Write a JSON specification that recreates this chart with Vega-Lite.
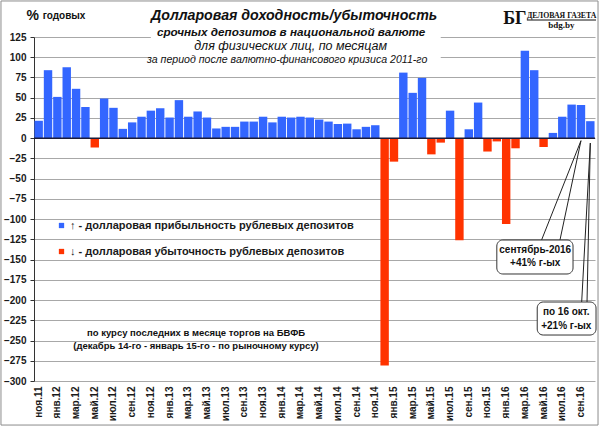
{
  "$schema": "https://vega.github.io/schema/vega-lite/v6.json",
  "autosize": {"type": "none"},
  "width": 561,
  "height": 344,
  "padding": {"left": 34, "top": 37, "right": 5, "bottom": 46},
  "background": "white",
  "config": {
    "view": {"stroke": null},
    "font": "Liberation Sans",
    "axis": {"labelFont": "Liberation Sans", "labelFontWeight": "bold", "labelColor": "#1a1a1a", "labelFontSize": 10, "labelOverlap": false},
    "axisY": {"grid": true, "gridColor": "#a8a8a8", "gridWidth": 1, "domainColor": "#333333", "tickColor": "#333333", "tickSize": 4, "labelPadding": 4},
    "axisX": {"ticks": false, "domain": false, "grid": false, "labelPadding": 5, "labelAngle": -90},
    "legend": {"labelFont": "Liberation Sans", "labelFontWeight": "bold", "labelFontSize": 11, "labelColor": "#1a1a1a", "labelLimit": 400}
  },
  "datasets": {
    "bars": [
      {"m": "ноя.11", "v": 21.5, "s": "up"},
      {"m": "дек.11", "v": 84, "s": "up"},
      {"m": "янв.12", "v": 51, "s": "up"},
      {"m": "фев.12", "v": 87.5, "s": "up"},
      {"m": "мар.12", "v": 61, "s": "up"},
      {"m": "апр.12", "v": 38.5, "s": "up"},
      {"m": "май.12", "v": -11.5, "s": "down"},
      {"m": "июн.12", "v": 49, "s": "up"},
      {"m": "июл.12", "v": 37.5, "s": "up"},
      {"m": "авг.12", "v": 11.5, "s": "up"},
      {"m": "сен.12", "v": 19.5, "s": "up"},
      {"m": "окт.12", "v": 26.5, "s": "up"},
      {"m": "ноя.12", "v": 34, "s": "up"},
      {"m": "дек.12", "v": 37, "s": "up"},
      {"m": "янв.13", "v": 25.5, "s": "up"},
      {"m": "фев.13", "v": 47, "s": "up"},
      {"m": "мар.13", "v": 26.5, "s": "up"},
      {"m": "апр.13", "v": 33, "s": "up"},
      {"m": "май.13", "v": 25.5, "s": "up"},
      {"m": "июн.13", "v": 12, "s": "up"},
      {"m": "июл.13", "v": 14, "s": "up"},
      {"m": "авг.13", "v": 14, "s": "up"},
      {"m": "сен.13", "v": 20.5, "s": "up"},
      {"m": "окт.13", "v": 20.5, "s": "up"},
      {"m": "ноя.13", "v": 26.5, "s": "up"},
      {"m": "дек.13", "v": 19.5, "s": "up"},
      {"m": "янв.14", "v": 26.5, "s": "up"},
      {"m": "фев.14", "v": 25.5, "s": "up"},
      {"m": "мар.14", "v": 26.5, "s": "up"},
      {"m": "апр.14", "v": 25.5, "s": "up"},
      {"m": "май.14", "v": 23, "s": "up"},
      {"m": "июн.14", "v": 20.5, "s": "up"},
      {"m": "июл.14", "v": 17.5, "s": "up"},
      {"m": "авг.14", "v": 18, "s": "up"},
      {"m": "сен.14", "v": 11, "s": "up"},
      {"m": "окт.14", "v": 14, "s": "up"},
      {"m": "ноя.14", "v": 16, "s": "up"},
      {"m": "дек.14", "v": -281, "s": "down"},
      {"m": "янв.15", "v": -29, "s": "down"},
      {"m": "фев.15", "v": 81, "s": "up"},
      {"m": "мар.15", "v": 56, "s": "up"},
      {"m": "апр.15", "v": 74.5, "s": "up"},
      {"m": "май.15", "v": -20, "s": "down"},
      {"m": "июн.15", "v": -5.5, "s": "down"},
      {"m": "июл.15", "v": 34, "s": "up"},
      {"m": "авг.15", "v": -126, "s": "down"},
      {"m": "сен.15", "v": 11, "s": "up"},
      {"m": "окт.15", "v": 44, "s": "up"},
      {"m": "ноя.15", "v": -16.5, "s": "down"},
      {"m": "дек.15", "v": -4, "s": "down"},
      {"m": "янв.16", "v": -106, "s": "down"},
      {"m": "фев.16", "v": -12.5, "s": "down"},
      {"m": "мар.16", "v": 108, "s": "up"},
      {"m": "апр.16", "v": 84, "s": "up"},
      {"m": "май.16", "v": -11, "s": "down"},
      {"m": "июн.16", "v": 6.5, "s": "up"},
      {"m": "июл.16", "v": 26.5, "s": "up"},
      {"m": "авг.16", "v": 41.5, "s": "up"},
      {"m": "сен.16", "v": 41, "s": "up"},
      {"m": "окт.16", "v": 21, "s": "up"}
    ],
    "one": [{}]
  },
  "layer": [
    {
      "data": {"name": "bars"},
      "mark": {"type": "bar"},
      "encoding": {
        "x": {
          "field": "m", "type": "ordinal", "sort": null,
          "scale": {"type": "band", "paddingInner": 0.1, "paddingOuter": 0.05},
          "axis": {
            "values": ["ноя.11", "янв.12", "мар.12", "май.12", "июл.12", "сен.12", "ноя.12", "янв.13", "мар.13", "май.13", "июл.13", "сен.13", "ноя.13", "янв.14", "мар.14", "май.14", "июл.14", "сен.14", "ноя.14", "янв.15", "мар.15", "май.15", "июл.15", "сен.15", "ноя.15", "янв.16", "мар.16", "май.16", "июл.16", "сен.16"],
            "title": null
          }
        },
        "y": {
          "field": "v", "type": "quantitative",
          "scale": {"domain": [-300, 125], "nice": false, "zero": false},
          "axis": {
            "values": [-300, -275, -250, -225, -200, -175, -150, -125, -100, -75, -50, -25, 0, 25, 50, 75, 100, 125],
            "title": "%", "titleAngle": 0, "titleAlign": "left", "titleBaseline": "alphabetic",
            "titleX": -8, "titleY": -18, "titleFontSize": 14, "titleFontWeight": "bold", "titleColor": "#111111"
          }
        },
        "color": {
          "field": "s", "type": "nominal",
          "scale": {"domain": ["up", "down"], "range": ["#3366ff", "#ff3300"]},
          "legend": {
            "orient": "none", "legendX": 22, "legendY": 183, "title": null, "padding": 0,
            "symbolType": "square", "symbolSize": 28, "symbolStrokeWidth": 0,
            "labelOffset": 3, "rowPadding": 14,
            "labelExpr": "datum.label == 'up' ? '↑ - долларовая прибыльность рублевых депозитов' : '↓ - долларовая убыточность рублевых депозитов'"
          }
        }
      }
    },
    {
      "data": {"name": "one"},
      "encoding": {
        "y": {"datum": 0, "type": "quantitative", "scale": {"domain": [-300, 125], "nice": false, "zero": false}, "axis": null}
      },
      "layer": [
        {
          "mark": {"type": "rect", "fill": "white"},
          "encoding": {
            "x": {"datum": "ноя.12", "bandPosition": 0.5},
            "x2": {"datum": "июн.15", "bandPosition": 0.5},
            "y": {"datum": 84.2, "type": "quantitative", "scale": {"domain": [-300, 125], "nice": false, "zero": false}, "axis": null},
            "y2": {"datum": 125}
          }
        },
        {
          "mark": {"type": "rule", "color": "#1c1c3a", "strokeWidth": 1.5},
          "encoding": {"y": {"datum": 0, "type": "quantitative", "scale": {"domain": [-300, 125], "nice": false, "zero": false}, "axis": null}}
        },
        {
          "mark": {"type": "rect", "fill": null, "filled": false, "stroke": "#8c8c8c", "strokeWidth": 1, "xOffset": -37.7, "x2Offset": 7.7},
          "encoding": {
            "x": {"datum": "ноя.11", "bandPosition": 0.5},
            "x2": {"datum": "окт.16", "bandPosition": 0.5},
            "y": {"datum": 169.5, "type": "quantitative", "scale": {"domain": [-300, 125], "nice": false, "zero": false}, "axis": null},
            "y2": {"datum": -354.4}
          }
        },
        {
          "mark": {"type": "text", "align": "center", "baseline": "alphabetic", "fontSize": 14.2, "fontStyle": "italic", "fontWeight": "bold", "color": "#111111", "dx": 3},
          "encoding": {"x": {"datum": "фев.14"}, "y": {"datum": 146, "type": "quantitative", "scale": {"domain": [-300, 125], "nice": false, "zero": false}, "axis": null}, "text": {"datum": "Долларовая доходность/убыточность"}}
        },
        {
          "mark": {"type": "text", "align": "center", "baseline": "alphabetic", "fontSize": 11.7, "fontStyle": "italic", "fontWeight": "bold", "color": "#111111", "dx": 0},
          "encoding": {"x": {"datum": "фев.14"}, "y": {"datum": 126.6, "type": "quantitative", "scale": {"domain": [-300, 125], "nice": false, "zero": false}, "axis": null}, "text": {"datum": "срочных депозитов в национальной  валюте"}}
        },
        {
          "mark": {"type": "text", "align": "center", "baseline": "alphabetic", "fontSize": 12.5, "fontStyle": "italic", "color": "#111111", "dx": -0.5},
          "encoding": {"x": {"datum": "фев.14"}, "y": {"datum": 108.9, "type": "quantitative", "scale": {"domain": [-300, 125], "nice": false, "zero": false}, "axis": null}, "text": {"datum": "для физических лиц, по месяцам"}}
        },
        {
          "mark": {"type": "text", "align": "center", "baseline": "alphabetic", "fontSize": 10.6, "fontStyle": "italic", "color": "#111111", "dx": -4},
          "encoding": {"x": {"datum": "фев.14"}, "y": {"datum": 92.9, "type": "quantitative", "scale": {"domain": [-300, 125], "nice": false, "zero": false}, "axis": null}, "text": {"datum": "за период после валютно-финансового  кризиса 2011-го"}}
        },
        {
          "mark": {"type": "text", "align": "left", "baseline": "alphabetic", "fontSize": 10, "fontWeight": "bold", "color": "#111111", "dx": 4},
          "encoding": {"x": {"datum": "ноя.11"}, "y": {"datum": 147.2, "type": "quantitative", "scale": {"domain": [-300, 125], "nice": false, "zero": false}, "axis": null}, "text": {"datum": "годовых"}}
        },
        {
          "mark": {"type": "text", "align": "left", "baseline": "alphabetic", "font": "Liberation Serif", "fontSize": 18, "fontWeight": "bold", "color": "#111111", "dx": -3},
          "encoding": {"x": {"datum": "янв.16"}, "y": {"datum": 141.5, "type": "quantitative", "scale": {"domain": [-300, 125], "nice": false, "zero": false}, "axis": null}, "text": {"datum": "БГ"}}
        },
        {
          "mark": {"type": "text", "align": "left", "baseline": "alphabetic", "font": "Liberation Serif", "fontSize": 7.8, "fontWeight": "bold", "color": "#111111", "dx": 2},
          "encoding": {"x": {"datum": "мар.16"}, "y": {"datum": 148.5, "type": "quantitative", "scale": {"domain": [-300, 125], "nice": false, "zero": false}, "axis": null}, "text": {"datum": "ДЕЛОВАЯ ГАЗЕТА"}}
        },
        {
          "mark": {"type": "rule", "color": "#111111", "strokeWidth": 1, "xOffset": 2, "x2Offset": 5.7},
          "encoding": {"x": {"datum": "мар.16", "bandPosition": 0.5}, "x2": {"datum": "окт.16", "bandPosition": 0.5}, "y": {"datum": 146, "type": "quantitative", "scale": {"domain": [-300, 125], "nice": false, "zero": false}, "axis": null}, "y2": {"datum": 146}}
        },
        {
          "mark": {"type": "text", "align": "center", "baseline": "alphabetic", "font": "Liberation Serif", "fontSize": 9, "fontWeight": "bold", "color": "#111111", "dx": -1},
          "encoding": {"x": {"datum": "июл.16"}, "y": {"datum": 136.7, "type": "quantitative", "scale": {"domain": [-300, 125], "nice": false, "zero": false}, "axis": null}, "text": {"datum": "bdg.by"}}
        },
        {
          "mark": {"type": "text", "align": "center", "baseline": "middle", "fontSize": 9.5, "fontWeight": "bold", "color": "#111111", "dx": -1.6},
          "encoding": {"x": {"datum": "апр.13"}, "y": {"datum": -240.7, "type": "quantitative", "scale": {"domain": [-300, 125], "nice": false, "zero": false}, "axis": null}, "text": {"datum": "по курсу последних в месяце торгов на БВФБ"}}
        },
        {
          "mark": {"type": "text", "align": "center", "baseline": "middle", "fontSize": 9.5, "fontWeight": "bold", "color": "#111111", "dx": -1.6},
          "encoding": {"x": {"datum": "апр.13"}, "y": {"datum": -256.8, "type": "quantitative", "scale": {"domain": [-300, 125], "nice": false, "zero": false}, "axis": null}, "text": {"datum": "(декабрь 14-го - январь  15-го - по рыночному  курсу)"}}
        },
        {
          "mark": {"type": "rule", "color": "#222222", "strokeWidth": 1, "x2Offset": -2},
          "encoding": {"x": {"datum": "сен.16", "bandPosition": 0.5}, "x2": {"datum": "май.16", "bandPosition": 0.5}, "y": {"datum": -3.1, "type": "quantitative", "scale": {"domain": [-300, 125], "nice": false, "zero": false}, "axis": null}, "y2": {"datum": -125.8}}
        },
        {
          "mark": {"type": "rule", "color": "#222222", "strokeWidth": 1, "x2Offset": -2.3},
          "encoding": {"x": {"datum": "сен.16", "bandPosition": 0.5}, "x2": {"datum": "июл.16", "bandPosition": 0.5}, "y": {"datum": -3.1, "type": "quantitative", "scale": {"domain": [-300, 125], "nice": false, "zero": false}, "axis": null}, "y2": {"datum": -125.8}}
        },
        {
          "mark": {"type": "rule", "color": "#222222", "strokeWidth": 1, "x2Offset": 0.7},
          "encoding": {"x": {"datum": "окт.16", "bandPosition": 0.5}, "x2": {"datum": "сен.16", "bandPosition": 0.5}, "y": {"datum": -6, "type": "quantitative", "scale": {"domain": [-300, 125], "nice": false, "zero": false}, "axis": null}, "y2": {"datum": -202.4}}
        },
        {
          "mark": {"type": "rule", "color": "#222222", "strokeWidth": 1, "x2Offset": -3.3},
          "encoding": {"x": {"datum": "окт.16", "bandPosition": 0.5}, "x2": {"datum": "окт.16", "bandPosition": 0.5}, "y": {"datum": -6, "type": "quantitative", "scale": {"domain": [-300, 125], "nice": false, "zero": false}, "axis": null}, "y2": {"datum": -202.4}}
        },
        {
          "mark": {"type": "rect", "fill": "white", "stroke": "#333333", "strokeWidth": 1, "cornerRadius": 6, "x2Offset": 1.4},
          "encoding": {"x": {"datum": "дек.15", "bandPosition": 0.5}, "x2": {"datum": "авг.16", "bandPosition": 0.5}, "y": {"datum": -125.8, "type": "quantitative", "scale": {"domain": [-300, 125], "nice": false, "zero": false}, "axis": null}, "y2": {"datum": -167.8}}
        },
        {
          "mark": {"type": "rect", "fill": "white", "stroke": "#333333", "strokeWidth": 1, "cornerRadius": 6, "xOffset": 3, "x2Offset": 5.7},
          "encoding": {"x": {"datum": "апр.16", "bandPosition": 0.5}, "x2": {"datum": "окт.16", "bandPosition": 0.5}, "y": {"datum": -202.4, "type": "quantitative", "scale": {"domain": [-300, 125], "nice": false, "zero": false}, "axis": null}, "y2": {"datum": -243.2}}
        },
        {
          "mark": {"type": "text", "align": "center", "baseline": "middle", "fontSize": 10, "fontWeight": "bold", "color": "#111111", "dx": 1},
          "encoding": {"x": {"datum": "апр.16"}, "y": {"datum": -138.2, "type": "quantitative", "scale": {"domain": [-300, 125], "nice": false, "zero": false}, "axis": null}, "text": {"datum": "сентябрь-2016"}}
        },
        {
          "mark": {"type": "text", "align": "center", "baseline": "middle", "fontSize": 10, "fontWeight": "bold", "color": "#111111", "dx": 1},
          "encoding": {"x": {"datum": "апр.16"}, "y": {"datum": -154.8, "type": "quantitative", "scale": {"domain": [-300, 125], "nice": false, "zero": false}, "axis": null}, "text": {"datum": "+41% г-ых"}}
        },
        {
          "mark": {"type": "text", "align": "center", "baseline": "middle", "fontSize": 10, "fontWeight": "bold", "color": "#111111", "dx": 4},
          "encoding": {"x": {"datum": "июл.16"}, "y": {"datum": -214.8, "type": "quantitative", "scale": {"domain": [-300, 125], "nice": false, "zero": false}, "axis": null}, "text": {"datum": "по 16 окт."}}
        },
        {
          "mark": {"type": "text", "align": "center", "baseline": "middle", "fontSize": 10, "fontWeight": "bold", "color": "#111111", "dx": 4},
          "encoding": {"x": {"datum": "июл.16"}, "y": {"datum": -232.1, "type": "quantitative", "scale": {"domain": [-300, 125], "nice": false, "zero": false}, "axis": null}, "text": {"datum": "+21% г-ых"}}
        }
      ]
    }
  ],
  "resolve": {"scale": {"y": "independent"}}
}
